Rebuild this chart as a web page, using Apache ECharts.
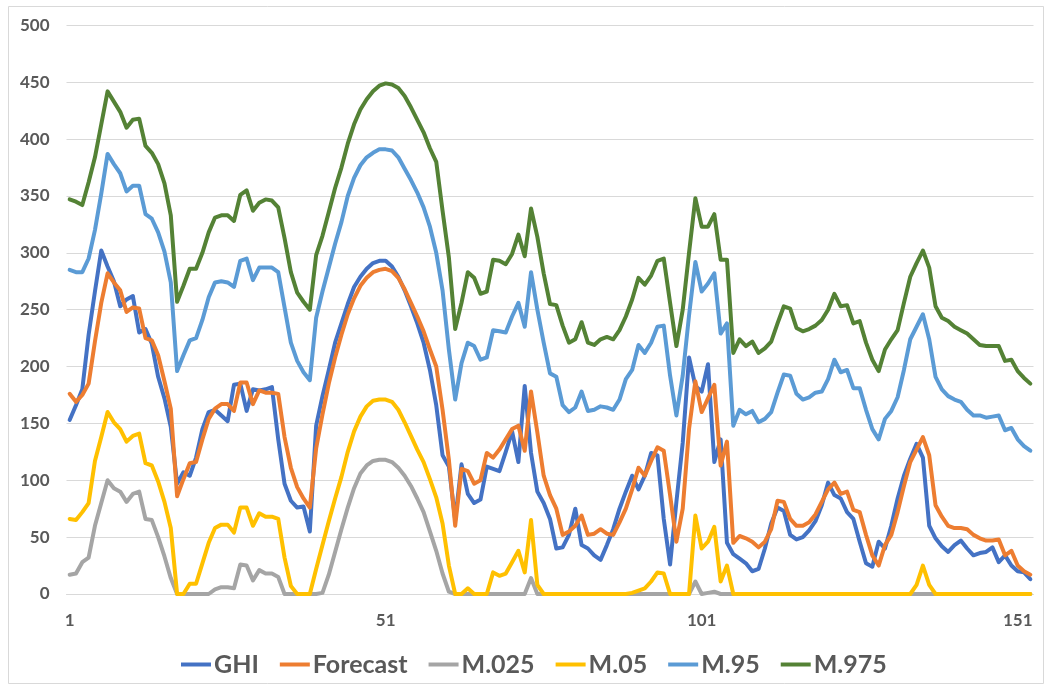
<!DOCTYPE html>
<html>
<head>
<meta charset="utf-8">
<title>GHI forecast quantiles</title>
<script src="https://cdn.jsdelivr.net/npm/echarts@6/dist/echarts.min.js"></script>
<style>
  html, body { margin: 0; padding: 0; background: #ffffff; }
  #chart { width: 1050px; height: 690px; }
</style>
</head>
<body>
<div id="chart"></div>
<script>
// Time step index 1..153
const categories = [];
for (let i = 1; i <= 153; i++) categories.push(String(i));

const ghi = [153,166,180,228,266,302,288,275,253,259,
  262,230,233,220,191,172,147,97,107,104,
  120,145,160,162,157,152,184,185,161,180,
  179,180,182,136,97,82,76,77,55,148,
  174,197,221,238,255,270,279,286,291,293,
  293,288,279,267,253,238,221,197,166,122,
  112,65,114,88,80,83,112,110,108,125,
  143,116,183,124,90,80,66,40,41,52,
  75,43,40,34,30,43,57,75,90,104,
  92,104,124,122,66,26,81,133,208,183,
  178,202,116,136,45,35,31,27,20,22,
  40,62,76,73,52,48,50,56,64,78,
  98,87,84,72,66,46,27,24,46,40,
  60,84,104,119,132,120,60,49,42,37,
  43,47,40,34,36,37,41,28,34,25,
  20,19,13];

const forecast = [176,169,175,185,222,256,282,274,267,248,
  252,251,225,223,210,187,163,86,101,115,
  116,136,154,163,167,167,161,186,186,167,
  179,177,177,176,138,111,94,84,76,128,
  158,185,208,228,246,260,271,278,283,285,
  286,284,278,268,256,244,231,215,200,162,
  118,60,110,108,97,100,124,120,127,136,
  145,148,126,178,142,104,87,75,52,55,
  60,69,52,53,57,53,52,63,75,92,
  111,104,117,129,126,87,46,75,145,187,
  160,172,184,113,134,45,51,49,46,41,
  46,57,82,81,66,60,60,63,70,81,
  92,98,88,90,74,72,52,34,25,43,
  52,72,95,116,127,138,122,78,68,60,
  58,58,57,52,49,47,47,48,34,38,
  25,20,17];

const m025 = [17,18,28,32,60,80,100,93,90,81,
  88,90,66,65,50,33,14,0,0,0,
  0,0,0,4,6,6,5,26,25,12,
  21,18,18,15,0,0,0,0,0,0,
  1,17,37,57,76,93,106,113,117,118,
  118,116,111,104,95,84,72,55,38,18,
  2,0,0,0,0,0,0,0,0,0,
  0,0,0,14,0,0,0,0,0,0,
  0,0,0,0,0,0,0,0,0,0,
  0,0,0,0,0,0,0,0,0,11,
  0,1,2,0,0,0,0,0,0,0,
  0,0,0,0,0,0,0,0,0,0,
  0,0,0,0,0,0,0,0,0,0,
  0,0,0,0,0,0,0,0,0,0,
  0,0,0,0,0,0,0,0,0,0,
  0,0,0];

const m05 = [66,65,72,80,117,138,160,151,145,134,
  139,141,115,113,99,81,58,0,0,9,
  9,27,45,58,61,61,54,76,76,60,
  71,68,68,66,32,7,0,0,0,22,
  43,64,84,103,125,143,156,165,170,171,
  171,169,162,151,139,127,116,101,85,62,
  25,0,0,5,0,0,0,19,16,18,
  28,38,19,65,8,0,0,0,0,0,
  0,0,0,0,0,0,0,0,0,1,
  3,5,11,19,18,0,0,0,0,69,
  40,46,59,11,25,0,0,0,0,0,
  0,0,0,0,0,0,0,0,0,0,
  0,0,0,0,0,0,0,0,0,0,
  0,0,0,0,8,25,8,0,0,0,
  0,0,0,0,0,0,0,0,0,0,
  0,0,0];

const m95 = [285,283,283,295,320,352,387,378,370,354,
  359,359,334,330,318,301,274,196,210,223,
  225,241,261,274,275,274,270,293,295,276,
  287,287,287,283,252,221,205,195,188,243,
  266,287,308,327,350,366,377,384,388,391,
  391,390,384,374,364,353,340,323,300,267,
  215,171,203,221,218,206,208,232,231,230,
  244,256,235,283,250,221,194,191,166,160,
  164,178,161,162,165,164,162,171,189,197,
  219,212,221,235,236,192,157,192,245,292,
  266,273,282,229,238,148,162,158,161,151,
  154,160,177,193,192,176,171,173,177,178,
  189,206,195,197,181,181,162,145,136,154,
  161,173,197,224,235,246,224,191,180,174,
  171,169,162,157,157,155,156,157,144,146,
  136,130,126];

const m975 = [347,345,342,362,384,413,442,433,424,410,
  417,418,394,388,378,361,333,257,271,286,
  286,300,318,331,333,333,328,351,355,337,
  344,347,346,340,313,283,265,257,250,298,
  315,336,357,375,396,413,426,435,442,447,
  449,448,445,438,428,417,406,392,380,337,
  296,233,256,283,278,264,266,294,293,290,
  299,316,297,339,314,282,255,254,236,221,
  224,239,221,219,224,226,224,232,244,259,
  278,272,280,293,295,256,218,250,300,348,
  323,323,334,294,294,212,224,218,222,212,
  216,222,238,253,251,234,231,233,236,241,
  250,264,253,254,238,240,221,206,196,215,
  224,232,256,279,291,302,287,253,243,240,
  235,232,229,224,219,218,218,218,205,206,
  196,190,185];

const seriesNames = ['GHI', 'Forecast', 'M.025', 'M.05', 'M.95', 'M.975'];
const seriesData = [ghi, forecast, m025, m05, m95, m975];
const seriesColors = ['#4472C4', '#ED7D31', '#A5A5A5', '#FFC000', '#5B9BD5', '#548235'];

const FONT = 'Lato, "Liberation Sans", sans-serif';

const chart = echarts.init(document.getElementById('chart'), null, { renderer: 'canvas' });

chart.setOption({
  backgroundColor: '#ffffff',
  animation: false,
  color: seriesColors,
  graphic: [{
    type: 'rect',
    silent: true,
    shape: { x: 8.5, y: 6.5, width: 1035, height: 677 },
    style: { fill: 'none', stroke: '#d9d9d9', lineWidth: 1 }
  }],
  grid: { left: 66.5, right: 16.5, top: 25.4, bottom: 96, containLabel: false },
  legend: {
    data: seriesNames,
    top: 647,
    left: 176,
    icon: 'rect',
    itemWidth: 30,
    itemHeight: 4,
    itemGap: 21,
    textStyle: {
      fontFamily: FONT, fontSize: 25, fontWeight: 'bold',
      color: '#595959', padding: [0, 0, 0, -2]
    }
  },
  xAxis: {
    type: 'category',
    data: categories,
    boundaryGap: true,
    axisTick: { show: false },
    axisLine: { lineStyle: { color: '#d9d9d9', width: 1 } },
    axisLabel: {
      interval: 49, color: '#595959', fontFamily: FONT,
      fontSize: 17, fontWeight: 'bold', margin: 18
    },
    splitLine: { show: false }
  },
  yAxis: {
    type: 'value',
    min: 0,
    max: 500,
    interval: 50,
    axisLine: { show: false },
    axisTick: { show: false },
    axisLabel: {
      color: '#595959', fontFamily: FONT,
      fontSize: 17, fontWeight: 'bold', margin: 17
    },
    splitLine: { lineStyle: { color: '#d9d9d9', width: 1 } }
  },
  series: seriesNames.map((name, k) => ({
    name: name,
    type: 'line',
    data: seriesData[k],
    showSymbol: false,
    symbol: 'none',
    clip: false,
    lineStyle: { width: 4, color: seriesColors[k], join: 'round', cap: 'round' },
    itemStyle: { color: seriesColors[k] }
  }))
});
</script>
</body>
</html>
